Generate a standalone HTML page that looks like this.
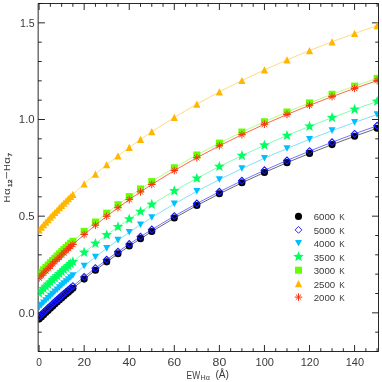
<!DOCTYPE html><html><head><meta charset="utf-8"><style>html,body{margin:0;padding:0;background:#fff}svg{display:block;will-change:transform}text{font-family:"Liberation Sans",sans-serif;fill:#3a3a3a}</style></head><body>
<svg width="382" height="382" viewBox="0 0 382 382">
<rect width="382" height="382" fill="#fff"/>
<defs><clipPath id="c"><rect x="38.6" y="3.95" width="339.45" height="347.1"/></clipPath></defs>
<path d="M38.15 3.5H378.5V351.5H38.15ZM39.10 351.5v-6.5M39.10 3.5v6.5M50.37 351.5v-3.3M50.37 3.5v3.3M61.63 351.5v-3.3M61.63 3.5v3.3M72.90 351.5v-3.3M72.90 3.5v3.3M84.17 351.5v-6.5M84.17 3.5v6.5M95.44 351.5v-3.3M95.44 3.5v3.3M106.70 351.5v-3.3M106.70 3.5v3.3M117.97 351.5v-3.3M117.97 3.5v3.3M129.24 351.5v-6.5M129.24 3.5v6.5M140.51 351.5v-3.3M140.51 3.5v3.3M151.78 351.5v-3.3M151.78 3.5v3.3M163.04 351.5v-3.3M163.04 3.5v3.3M174.31 351.5v-6.5M174.31 3.5v6.5M185.58 351.5v-3.3M185.58 3.5v3.3M196.84 351.5v-3.3M196.84 3.5v3.3M208.11 351.5v-3.3M208.11 3.5v3.3M219.38 351.5v-6.5M219.38 3.5v6.5M230.65 351.5v-3.3M230.65 3.5v3.3M241.91 351.5v-3.3M241.91 3.5v3.3M253.18 351.5v-3.3M253.18 3.5v3.3M264.45 351.5v-6.5M264.45 3.5v6.5M275.72 351.5v-3.3M275.72 3.5v3.3M286.99 351.5v-3.3M286.99 3.5v3.3M298.25 351.5v-3.3M298.25 3.5v3.3M309.52 351.5v-6.5M309.52 3.5v6.5M320.79 351.5v-3.3M320.79 3.5v3.3M332.06 351.5v-3.3M332.06 3.5v3.3M343.32 351.5v-3.3M343.32 3.5v3.3M354.59 351.5v-6.5M354.59 3.5v6.5M365.86 351.5v-3.3M365.86 3.5v3.3M377.12 351.5v-3.3M377.12 3.5v3.3M38.15 351.50H41.75M378.5 351.50h-3.3M38.15 332.17H41.75M378.5 332.17h-3.3M38.15 312.83H44.95M378.5 312.83h-6.5M38.15 293.50H41.75M378.5 293.50h-3.3M38.15 274.17H41.75M378.5 274.17h-3.3M38.15 254.83H41.75M378.5 254.83h-3.3M38.15 235.50H41.75M378.5 235.50h-3.3M38.15 216.17H44.95M378.5 216.17h-6.5M38.15 196.83H41.75M378.5 196.83h-3.3M38.15 177.50H41.75M378.5 177.50h-3.3M38.15 158.17H41.75M378.5 158.17h-3.3M38.15 138.83H41.75M378.5 138.83h-3.3M38.15 119.50H44.95M378.5 119.50h-6.5M38.15 100.17H41.75M378.5 100.17h-3.3M38.15 80.83H41.75M378.5 80.83h-3.3M38.15 61.50H41.75M378.5 61.50h-3.3M38.15 42.17H41.75M378.5 42.17h-3.3M38.15 22.83H44.95M378.5 22.83h-6.5M38.15 3.50H41.75M378.5 3.50h-3.3" stroke="#111" stroke-width="0.9" fill="none"/>
<g clip-path="url(#c)">
<polyline points="39.10,319.10 41.35,316.88 43.61,314.70 45.86,312.53 48.11,310.39 50.37,308.28 52.62,306.19 54.87,304.12 57.13,302.07 59.38,300.04 61.63,298.04 63.89,296.05 66.14,294.09 68.40,292.15 70.65,290.22 72.90,288.32 84.17,279.08 95.44,270.26 106.70,261.85 117.97,253.79 129.24,246.07 140.51,238.66 151.78,231.54 174.31,218.07 196.84,205.53 219.38,193.81 241.91,182.80 264.45,172.44 286.99,162.66 309.52,153.40 332.06,144.61 354.59,136.25 377.12,128.28" fill="none" stroke="#000000" stroke-width="0.6"/>
<circle cx="39.10" cy="319.10" r="3.55" fill="#000000"/>
<circle cx="41.35" cy="316.88" r="3.55" fill="#000000"/>
<circle cx="43.61" cy="314.70" r="3.55" fill="#000000"/>
<circle cx="45.86" cy="312.53" r="3.55" fill="#000000"/>
<circle cx="48.11" cy="310.39" r="3.55" fill="#000000"/>
<circle cx="50.37" cy="308.28" r="3.55" fill="#000000"/>
<circle cx="52.62" cy="306.19" r="3.55" fill="#000000"/>
<circle cx="54.87" cy="304.12" r="3.55" fill="#000000"/>
<circle cx="57.13" cy="302.07" r="3.55" fill="#000000"/>
<circle cx="59.38" cy="300.04" r="3.55" fill="#000000"/>
<circle cx="61.63" cy="298.04" r="3.55" fill="#000000"/>
<circle cx="63.89" cy="296.05" r="3.55" fill="#000000"/>
<circle cx="66.14" cy="294.09" r="3.55" fill="#000000"/>
<circle cx="68.40" cy="292.15" r="3.55" fill="#000000"/>
<circle cx="70.65" cy="290.22" r="3.55" fill="#000000"/>
<circle cx="72.90" cy="288.32" r="3.55" fill="#000000"/>
<circle cx="84.17" cy="279.08" r="3.55" fill="#000000"/>
<circle cx="95.44" cy="270.26" r="3.55" fill="#000000"/>
<circle cx="106.70" cy="261.85" r="3.55" fill="#000000"/>
<circle cx="117.97" cy="253.79" r="3.55" fill="#000000"/>
<circle cx="129.24" cy="246.07" r="3.55" fill="#000000"/>
<circle cx="140.51" cy="238.66" r="3.55" fill="#000000"/>
<circle cx="151.78" cy="231.54" r="3.55" fill="#000000"/>
<circle cx="174.31" cy="218.07" r="3.55" fill="#000000"/>
<circle cx="196.84" cy="205.53" r="3.55" fill="#000000"/>
<circle cx="219.38" cy="193.81" r="3.55" fill="#000000"/>
<circle cx="241.91" cy="182.80" r="3.55" fill="#000000"/>
<circle cx="264.45" cy="172.44" r="3.55" fill="#000000"/>
<circle cx="286.99" cy="162.66" r="3.55" fill="#000000"/>
<circle cx="309.52" cy="153.40" r="3.55" fill="#000000"/>
<circle cx="332.06" cy="144.61" r="3.55" fill="#000000"/>
<circle cx="354.59" cy="136.25" r="3.55" fill="#000000"/>
<circle cx="377.12" cy="128.28" r="3.55" fill="#000000"/>
<polyline points="39.10,316.56 41.35,314.38 43.61,312.21 45.86,310.07 48.11,307.95 50.37,305.86 52.62,303.79 54.87,301.74 57.13,299.71 59.38,297.70 61.63,295.71 63.89,293.75 66.14,291.80 68.40,289.87 70.65,287.96 72.90,286.07 84.17,276.89 95.44,268.13 106.70,259.76 117.97,251.74 129.24,244.04 140.51,236.65 151.78,229.53 174.31,216.07 196.84,203.51 219.38,191.76 241.91,180.71 264.45,170.30 286.99,160.45 309.52,151.12 332.06,142.26 354.59,133.82 377.12,125.76" fill="none" stroke="#1414ff" stroke-width="0.6"/>
<path d="M35.70 316.56L39.10 313.16L42.50 316.56L39.10 319.96Z" fill="none" stroke="#1414ff" stroke-width="1.1"/>
<path d="M37.95 314.38L41.35 310.98L44.75 314.38L41.35 317.78Z" fill="none" stroke="#1414ff" stroke-width="1.1"/>
<path d="M40.21 312.21L43.61 308.81L47.01 312.21L43.61 315.61Z" fill="none" stroke="#1414ff" stroke-width="1.1"/>
<path d="M42.46 310.07L45.86 306.67L49.26 310.07L45.86 313.47Z" fill="none" stroke="#1414ff" stroke-width="1.1"/>
<path d="M44.71 307.95L48.11 304.55L51.51 307.95L48.11 311.35Z" fill="none" stroke="#1414ff" stroke-width="1.1"/>
<path d="M46.97 305.86L50.37 302.46L53.77 305.86L50.37 309.26Z" fill="none" stroke="#1414ff" stroke-width="1.1"/>
<path d="M49.22 303.79L52.62 300.39L56.02 303.79L52.62 307.19Z" fill="none" stroke="#1414ff" stroke-width="1.1"/>
<path d="M51.47 301.74L54.87 298.34L58.27 301.74L54.87 305.14Z" fill="none" stroke="#1414ff" stroke-width="1.1"/>
<path d="M53.73 299.71L57.13 296.31L60.53 299.71L57.13 303.11Z" fill="none" stroke="#1414ff" stroke-width="1.1"/>
<path d="M55.98 297.70L59.38 294.30L62.78 297.70L59.38 301.10Z" fill="none" stroke="#1414ff" stroke-width="1.1"/>
<path d="M58.23 295.71L61.63 292.31L65.03 295.71L61.63 299.11Z" fill="none" stroke="#1414ff" stroke-width="1.1"/>
<path d="M60.49 293.75L63.89 290.35L67.29 293.75L63.89 297.15Z" fill="none" stroke="#1414ff" stroke-width="1.1"/>
<path d="M62.74 291.80L66.14 288.40L69.54 291.80L66.14 295.20Z" fill="none" stroke="#1414ff" stroke-width="1.1"/>
<path d="M65.00 289.87L68.40 286.47L71.80 289.87L68.40 293.27Z" fill="none" stroke="#1414ff" stroke-width="1.1"/>
<path d="M67.25 287.96L70.65 284.56L74.05 287.96L70.65 291.36Z" fill="none" stroke="#1414ff" stroke-width="1.1"/>
<path d="M69.50 286.07L72.90 282.67L76.30 286.07L72.90 289.47Z" fill="none" stroke="#1414ff" stroke-width="1.1"/>
<path d="M80.77 276.89L84.17 273.49L87.57 276.89L84.17 280.29Z" fill="none" stroke="#1414ff" stroke-width="1.1"/>
<path d="M92.04 268.13L95.44 264.73L98.84 268.13L95.44 271.53Z" fill="none" stroke="#1414ff" stroke-width="1.1"/>
<path d="M103.30 259.76L106.70 256.36L110.10 259.76L106.70 263.16Z" fill="none" stroke="#1414ff" stroke-width="1.1"/>
<path d="M114.57 251.74L117.97 248.34L121.37 251.74L117.97 255.14Z" fill="none" stroke="#1414ff" stroke-width="1.1"/>
<path d="M125.84 244.04L129.24 240.64L132.64 244.04L129.24 247.44Z" fill="none" stroke="#1414ff" stroke-width="1.1"/>
<path d="M137.11 236.65L140.51 233.25L143.91 236.65L140.51 240.05Z" fill="none" stroke="#1414ff" stroke-width="1.1"/>
<path d="M148.38 229.53L151.78 226.13L155.18 229.53L151.78 232.93Z" fill="none" stroke="#1414ff" stroke-width="1.1"/>
<path d="M170.91 216.07L174.31 212.67L177.71 216.07L174.31 219.47Z" fill="none" stroke="#1414ff" stroke-width="1.1"/>
<path d="M193.44 203.51L196.84 200.11L200.24 203.51L196.84 206.91Z" fill="none" stroke="#1414ff" stroke-width="1.1"/>
<path d="M215.98 191.76L219.38 188.36L222.78 191.76L219.38 195.16Z" fill="none" stroke="#1414ff" stroke-width="1.1"/>
<path d="M238.51 180.71L241.91 177.31L245.31 180.71L241.91 184.11Z" fill="none" stroke="#1414ff" stroke-width="1.1"/>
<path d="M261.05 170.30L264.45 166.90L267.85 170.30L264.45 173.70Z" fill="none" stroke="#1414ff" stroke-width="1.1"/>
<path d="M283.59 160.45L286.99 157.05L290.38 160.45L286.99 163.85Z" fill="none" stroke="#1414ff" stroke-width="1.1"/>
<path d="M306.12 151.12L309.52 147.72L312.92 151.12L309.52 154.52Z" fill="none" stroke="#1414ff" stroke-width="1.1"/>
<path d="M328.66 142.26L332.06 138.86L335.45 142.26L332.06 145.66Z" fill="none" stroke="#1414ff" stroke-width="1.1"/>
<path d="M351.19 133.82L354.59 130.42L357.99 133.82L354.59 137.22Z" fill="none" stroke="#1414ff" stroke-width="1.1"/>
<path d="M373.73 125.76L377.12 122.36L380.52 125.76L377.12 129.16Z" fill="none" stroke="#1414ff" stroke-width="1.1"/>
<polyline points="39.10,307.38 41.35,305.08 43.61,302.80 45.86,300.55 48.11,298.33 50.37,296.13 52.62,293.96 54.87,291.82 57.13,289.70 59.38,287.60 61.63,285.53 63.89,283.48 66.14,281.45 68.40,279.44 70.65,277.46 72.90,275.50 84.17,265.98 95.44,256.94 106.70,248.33 117.97,240.11 129.24,232.26 140.51,224.73 151.78,217.51 174.31,203.91 196.84,191.29 219.38,179.54 241.91,168.54 264.45,158.23 286.99,148.51 309.52,139.34 332.06,130.66 354.59,122.42 377.12,114.59" fill="none" stroke="#00bfff" stroke-width="0.5"/>
<path d="M35.60 304.08L42.60 304.08L39.10 310.68Z" fill="#00bfff"/>
<path d="M37.85 301.78L44.85 301.78L41.35 308.38Z" fill="#00bfff"/>
<path d="M40.11 299.50L47.11 299.50L43.61 306.10Z" fill="#00bfff"/>
<path d="M42.36 297.25L49.36 297.25L45.86 303.85Z" fill="#00bfff"/>
<path d="M44.61 295.03L51.61 295.03L48.11 301.63Z" fill="#00bfff"/>
<path d="M46.87 292.83L53.87 292.83L50.37 299.43Z" fill="#00bfff"/>
<path d="M49.12 290.66L56.12 290.66L52.62 297.26Z" fill="#00bfff"/>
<path d="M51.37 288.52L58.37 288.52L54.87 295.12Z" fill="#00bfff"/>
<path d="M53.63 286.40L60.63 286.40L57.13 293.00Z" fill="#00bfff"/>
<path d="M55.88 284.30L62.88 284.30L59.38 290.90Z" fill="#00bfff"/>
<path d="M58.13 282.23L65.13 282.23L61.63 288.83Z" fill="#00bfff"/>
<path d="M60.39 280.18L67.39 280.18L63.89 286.78Z" fill="#00bfff"/>
<path d="M62.64 278.15L69.64 278.15L66.14 284.75Z" fill="#00bfff"/>
<path d="M64.90 276.14L71.90 276.14L68.40 282.74Z" fill="#00bfff"/>
<path d="M67.15 274.16L74.15 274.16L70.65 280.76Z" fill="#00bfff"/>
<path d="M69.40 272.20L76.40 272.20L72.90 278.80Z" fill="#00bfff"/>
<path d="M80.67 262.68L87.67 262.68L84.17 269.28Z" fill="#00bfff"/>
<path d="M91.94 253.64L98.94 253.64L95.44 260.24Z" fill="#00bfff"/>
<path d="M103.20 245.03L110.20 245.03L106.70 251.63Z" fill="#00bfff"/>
<path d="M114.47 236.81L121.47 236.81L117.97 243.41Z" fill="#00bfff"/>
<path d="M125.74 228.96L132.74 228.96L129.24 235.56Z" fill="#00bfff"/>
<path d="M137.01 221.43L144.01 221.43L140.51 228.03Z" fill="#00bfff"/>
<path d="M148.28 214.21L155.28 214.21L151.78 220.81Z" fill="#00bfff"/>
<path d="M170.81 200.61L177.81 200.61L174.31 207.21Z" fill="#00bfff"/>
<path d="M193.34 187.99L200.34 187.99L196.84 194.59Z" fill="#00bfff"/>
<path d="M215.88 176.24L222.88 176.24L219.38 182.84Z" fill="#00bfff"/>
<path d="M238.41 165.24L245.41 165.24L241.91 171.84Z" fill="#00bfff"/>
<path d="M260.95 154.93L267.95 154.93L264.45 161.53Z" fill="#00bfff"/>
<path d="M283.49 145.21L290.49 145.21L286.99 151.81Z" fill="#00bfff"/>
<path d="M306.02 136.04L313.02 136.04L309.52 142.64Z" fill="#00bfff"/>
<path d="M328.56 127.36L335.56 127.36L332.06 133.96Z" fill="#00bfff"/>
<path d="M351.09 119.12L358.09 119.12L354.59 125.72Z" fill="#00bfff"/>
<path d="M373.62 111.29L380.62 111.29L377.12 117.89Z" fill="#00bfff"/>
<polyline points="39.10,293.21 41.35,290.95 43.61,288.71 45.86,286.50 48.11,284.31 50.37,282.16 52.62,280.02 54.87,277.91 57.13,275.82 59.38,273.76 61.63,271.71 63.89,269.69 66.14,267.70 68.40,265.72 70.65,263.76 72.90,261.83 84.17,252.44 95.44,243.50 106.70,234.98 117.97,226.84 129.24,219.05 140.51,211.58 151.78,204.41 174.31,190.88 196.84,178.31 219.38,166.58 241.91,155.60 264.45,145.28 286.99,135.55 309.52,126.35 332.06,117.63 354.59,109.36 377.12,101.48" fill="none" stroke="#00ff60" stroke-width="0.5"/>
<polygon points="39.10,287.61 40.48,291.31 44.43,291.48 41.33,293.94 42.39,297.74 39.10,295.56 35.81,297.74 36.87,293.94 33.77,291.48 37.72,291.31" fill="#00ff60"/>
<polygon points="41.35,285.35 42.73,289.05 46.68,289.22 43.59,291.67 44.65,295.48 41.35,293.30 38.06,295.48 39.12,291.67 36.03,289.22 39.97,289.05" fill="#00ff60"/>
<polygon points="43.61,283.11 44.99,286.81 48.93,286.98 45.84,289.44 46.90,293.24 43.61,291.06 40.32,293.24 41.37,289.44 38.28,286.98 42.23,286.81" fill="#00ff60"/>
<polygon points="45.86,280.90 47.24,284.60 51.19,284.77 48.10,287.23 49.15,291.03 45.86,288.85 42.57,291.03 43.63,287.23 40.53,284.77 44.48,284.60" fill="#00ff60"/>
<polygon points="48.11,278.71 49.50,282.41 53.44,282.58 50.35,285.04 51.41,288.85 48.11,286.66 44.82,288.85 45.88,285.04 42.79,282.58 46.73,282.41" fill="#00ff60"/>
<polygon points="50.37,276.56 51.75,280.25 55.69,280.42 52.60,282.88 53.66,286.69 50.37,284.51 47.08,286.69 48.13,282.88 45.04,280.42 48.99,280.25" fill="#00ff60"/>
<polygon points="52.62,274.42 54.00,278.12 57.95,278.29 54.86,280.75 55.91,284.55 52.62,282.37 49.33,284.55 50.39,280.75 47.30,278.29 51.24,278.12" fill="#00ff60"/>
<polygon points="54.87,272.31 56.26,276.01 60.20,276.18 57.11,278.64 58.17,282.44 54.87,280.26 51.58,282.44 52.64,278.64 49.55,276.18 53.49,276.01" fill="#00ff60"/>
<polygon points="57.13,270.22 58.51,273.92 62.45,274.09 59.36,276.55 60.42,280.35 57.13,278.17 53.84,280.35 54.89,276.55 51.80,274.09 55.75,273.92" fill="#00ff60"/>
<polygon points="59.38,268.16 60.76,271.86 64.71,272.03 61.62,274.48 62.67,278.29 59.38,276.11 56.09,278.29 57.15,274.48 54.06,272.03 58.00,271.86" fill="#00ff60"/>
<polygon points="61.63,266.11 63.02,269.81 66.96,269.98 63.87,272.44 64.93,276.25 61.63,274.06 58.34,276.25 59.40,272.44 56.31,269.98 60.25,269.81" fill="#00ff60"/>
<polygon points="63.89,264.09 65.27,267.79 69.21,267.96 66.12,270.42 67.18,274.23 63.89,272.04 60.60,274.23 61.65,270.42 58.56,267.96 62.51,267.79" fill="#00ff60"/>
<polygon points="66.14,262.10 67.52,265.79 71.47,265.97 68.38,268.42 69.43,272.23 66.14,270.05 62.85,272.23 63.91,268.42 60.82,265.97 64.76,265.79" fill="#00ff60"/>
<polygon points="68.40,260.12 69.78,263.82 73.72,263.99 70.63,266.45 71.69,270.25 68.40,268.07 65.10,270.25 66.16,266.45 63.07,263.99 67.01,263.82" fill="#00ff60"/>
<polygon points="70.65,258.16 72.03,261.86 75.97,262.03 72.88,264.49 73.94,268.29 70.65,266.11 67.36,268.29 68.41,264.49 65.32,262.03 69.27,261.86" fill="#00ff60"/>
<polygon points="72.90,256.23 74.28,259.93 78.23,260.10 75.14,262.55 76.19,266.36 72.90,264.18 69.61,266.36 70.67,262.55 67.58,260.10 71.52,259.93" fill="#00ff60"/>
<polygon points="84.17,246.84 85.55,250.54 89.50,250.71 86.40,253.16 87.46,256.97 84.17,254.79 80.88,256.97 81.94,253.16 78.84,250.71 82.79,250.54" fill="#00ff60"/>
<polygon points="95.44,237.90 96.82,241.60 100.76,241.77 97.67,244.23 98.73,248.03 95.44,245.85 92.15,248.03 93.20,244.23 90.11,241.77 94.06,241.60" fill="#00ff60"/>
<polygon points="106.70,229.38 108.09,233.08 112.03,233.25 108.94,235.71 110.00,239.51 106.70,237.33 103.41,239.51 104.47,235.71 101.38,233.25 105.32,233.08" fill="#00ff60"/>
<polygon points="117.97,221.24 119.35,224.94 123.30,225.11 120.21,227.57 121.26,231.37 117.97,229.19 114.68,231.37 115.74,227.57 112.65,225.11 116.59,224.94" fill="#00ff60"/>
<polygon points="129.24,213.45 130.62,217.15 134.57,217.32 131.47,219.78 132.53,223.58 129.24,221.40 125.95,223.58 127.01,219.78 123.91,217.32 127.86,217.15" fill="#00ff60"/>
<polygon points="140.51,205.98 141.89,209.68 145.83,209.85 142.74,212.31 143.80,216.11 140.51,213.93 137.22,216.11 138.27,212.31 135.18,209.85 139.13,209.68" fill="#00ff60"/>
<polygon points="151.78,198.81 153.16,202.51 157.10,202.68 154.01,205.14 155.07,208.94 151.78,206.76 148.48,208.94 149.54,205.14 146.45,202.68 150.39,202.51" fill="#00ff60"/>
<polygon points="174.31,185.28 175.69,188.98 179.64,189.15 176.54,191.61 177.60,195.41 174.31,193.23 171.02,195.41 172.08,191.61 168.98,189.15 172.93,188.98" fill="#00ff60"/>
<polygon points="196.84,172.71 198.23,176.41 202.17,176.58 199.08,179.04 200.14,182.84 196.84,180.66 193.55,182.84 194.61,179.04 191.52,176.58 195.46,176.41" fill="#00ff60"/>
<polygon points="219.38,160.98 220.76,164.68 224.71,164.85 221.61,167.31 222.67,171.11 219.38,168.93 216.09,171.11 217.15,167.31 214.05,164.85 218.00,164.68" fill="#00ff60"/>
<polygon points="241.91,150.00 243.30,153.70 247.24,153.87 244.15,156.32 245.21,160.13 241.91,157.95 238.62,160.13 239.68,156.32 236.59,153.87 240.53,153.70" fill="#00ff60"/>
<polygon points="264.45,139.68 265.83,143.37 269.78,143.55 266.68,146.00 267.74,149.81 264.45,147.63 261.16,149.81 262.22,146.00 259.12,143.55 263.07,143.37" fill="#00ff60"/>
<polygon points="286.99,129.95 288.37,133.64 292.31,133.82 289.22,136.27 290.28,140.08 286.99,137.90 283.69,140.08 284.75,136.27 281.66,133.82 285.60,133.64" fill="#00ff60"/>
<polygon points="309.52,120.75 310.90,124.45 314.85,124.62 311.75,127.07 312.81,130.88 309.52,128.70 306.23,130.88 307.29,127.07 304.19,124.62 308.14,124.45" fill="#00ff60"/>
<polygon points="332.06,112.03 333.44,115.73 337.38,115.90 334.29,118.36 335.35,122.16 332.06,119.98 328.76,122.16 329.82,118.36 326.73,115.90 330.67,115.73" fill="#00ff60"/>
<polygon points="354.59,103.76 355.97,107.46 359.92,107.63 356.82,110.08 357.88,113.89 354.59,111.71 351.30,113.89 352.36,110.08 349.26,107.63 353.21,107.46" fill="#00ff60"/>
<polygon points="377.12,95.88 378.51,99.58 382.45,99.75 379.36,102.21 380.42,106.01 377.12,103.83 373.83,106.01 374.89,102.21 371.80,99.75 375.74,99.58" fill="#00ff60"/>
<polyline points="39.10,274.59 41.35,272.17 43.61,269.78 45.86,267.42 48.11,265.08 50.37,262.78 52.62,260.51 54.87,258.27 57.13,256.05 59.38,253.86 61.63,251.70 63.89,249.56 66.14,247.44 68.40,245.36 70.65,243.29 72.90,241.25 84.17,231.38 95.44,222.03 106.70,213.15 117.97,204.70 129.24,196.64 140.51,188.95 151.78,181.58 174.31,167.74 196.84,154.97 219.38,143.11 241.91,132.05 264.45,121.72 286.99,112.01 309.52,102.87 332.06,94.25 354.59,86.09 377.12,78.35" fill="none" stroke="#66ff00" stroke-width="0.5"/>
<rect x="35.60" y="271.09" width="7.0" height="7.0" fill="#66ff00"/>
<rect x="37.85" y="268.67" width="7.0" height="7.0" fill="#66ff00"/>
<rect x="40.11" y="266.28" width="7.0" height="7.0" fill="#66ff00"/>
<rect x="42.36" y="263.92" width="7.0" height="7.0" fill="#66ff00"/>
<rect x="44.61" y="261.58" width="7.0" height="7.0" fill="#66ff00"/>
<rect x="46.87" y="259.28" width="7.0" height="7.0" fill="#66ff00"/>
<rect x="49.12" y="257.01" width="7.0" height="7.0" fill="#66ff00"/>
<rect x="51.37" y="254.77" width="7.0" height="7.0" fill="#66ff00"/>
<rect x="53.63" y="252.55" width="7.0" height="7.0" fill="#66ff00"/>
<rect x="55.88" y="250.36" width="7.0" height="7.0" fill="#66ff00"/>
<rect x="58.13" y="248.20" width="7.0" height="7.0" fill="#66ff00"/>
<rect x="60.39" y="246.06" width="7.0" height="7.0" fill="#66ff00"/>
<rect x="62.64" y="243.94" width="7.0" height="7.0" fill="#66ff00"/>
<rect x="64.90" y="241.86" width="7.0" height="7.0" fill="#66ff00"/>
<rect x="67.15" y="239.79" width="7.0" height="7.0" fill="#66ff00"/>
<rect x="69.40" y="237.75" width="7.0" height="7.0" fill="#66ff00"/>
<rect x="80.67" y="227.88" width="7.0" height="7.0" fill="#66ff00"/>
<rect x="91.94" y="218.53" width="7.0" height="7.0" fill="#66ff00"/>
<rect x="103.20" y="209.65" width="7.0" height="7.0" fill="#66ff00"/>
<rect x="114.47" y="201.20" width="7.0" height="7.0" fill="#66ff00"/>
<rect x="125.74" y="193.14" width="7.0" height="7.0" fill="#66ff00"/>
<rect x="137.01" y="185.45" width="7.0" height="7.0" fill="#66ff00"/>
<rect x="148.28" y="178.08" width="7.0" height="7.0" fill="#66ff00"/>
<rect x="170.81" y="164.24" width="7.0" height="7.0" fill="#66ff00"/>
<rect x="193.34" y="151.47" width="7.0" height="7.0" fill="#66ff00"/>
<rect x="215.88" y="139.61" width="7.0" height="7.0" fill="#66ff00"/>
<rect x="238.41" y="128.55" width="7.0" height="7.0" fill="#66ff00"/>
<rect x="260.95" y="118.22" width="7.0" height="7.0" fill="#66ff00"/>
<rect x="283.49" y="108.51" width="7.0" height="7.0" fill="#66ff00"/>
<rect x="306.02" y="99.37" width="7.0" height="7.0" fill="#66ff00"/>
<rect x="328.56" y="90.75" width="7.0" height="7.0" fill="#66ff00"/>
<rect x="351.09" y="82.59" width="7.0" height="7.0" fill="#66ff00"/>
<rect x="373.62" y="74.85" width="7.0" height="7.0" fill="#66ff00"/>
<polyline points="39.10,229.84 41.35,227.24 43.61,224.68 45.86,222.16 48.11,219.67 50.37,217.21 52.62,214.79 54.87,212.40 57.13,210.04 59.38,207.71 61.63,205.41 63.89,203.14 66.14,200.89 68.40,198.68 70.65,196.49 72.90,194.33 84.17,183.90 95.44,174.04 106.70,164.71 117.97,155.85 129.24,147.43 140.51,139.40 151.78,131.72 174.31,117.36 196.84,104.13 219.38,91.89 241.91,80.51 264.45,69.89 286.99,59.94 309.52,50.59 332.06,41.79 354.59,33.47 377.12,25.59" fill="none" stroke="#ffb600" stroke-width="0.5"/>
<path d="M35.50 233.44L42.70 233.44L39.10 226.24Z" fill="#ffb600"/>
<path d="M37.75 230.84L44.95 230.84L41.35 223.64Z" fill="#ffb600"/>
<path d="M40.01 228.28L47.21 228.28L43.61 221.08Z" fill="#ffb600"/>
<path d="M42.26 225.76L49.46 225.76L45.86 218.56Z" fill="#ffb600"/>
<path d="M44.51 223.27L51.71 223.27L48.11 216.07Z" fill="#ffb600"/>
<path d="M46.77 220.81L53.97 220.81L50.37 213.61Z" fill="#ffb600"/>
<path d="M49.02 218.39L56.22 218.39L52.62 211.19Z" fill="#ffb600"/>
<path d="M51.27 216.00L58.47 216.00L54.87 208.80Z" fill="#ffb600"/>
<path d="M53.53 213.64L60.73 213.64L57.13 206.44Z" fill="#ffb600"/>
<path d="M55.78 211.31L62.98 211.31L59.38 204.11Z" fill="#ffb600"/>
<path d="M58.03 209.01L65.23 209.01L61.63 201.81Z" fill="#ffb600"/>
<path d="M60.29 206.74L67.49 206.74L63.89 199.54Z" fill="#ffb600"/>
<path d="M62.54 204.49L69.74 204.49L66.14 197.29Z" fill="#ffb600"/>
<path d="M64.80 202.28L72.00 202.28L68.40 195.08Z" fill="#ffb600"/>
<path d="M67.05 200.09L74.25 200.09L70.65 192.89Z" fill="#ffb600"/>
<path d="M69.30 197.93L76.50 197.93L72.90 190.73Z" fill="#ffb600"/>
<path d="M80.57 187.50L87.77 187.50L84.17 180.30Z" fill="#ffb600"/>
<path d="M91.84 177.64L99.04 177.64L95.44 170.44Z" fill="#ffb600"/>
<path d="M103.10 168.31L110.30 168.31L106.70 161.11Z" fill="#ffb600"/>
<path d="M114.37 159.45L121.57 159.45L117.97 152.25Z" fill="#ffb600"/>
<path d="M125.64 151.03L132.84 151.03L129.24 143.83Z" fill="#ffb600"/>
<path d="M136.91 143.00L144.11 143.00L140.51 135.80Z" fill="#ffb600"/>
<path d="M148.18 135.32L155.38 135.32L151.78 128.12Z" fill="#ffb600"/>
<path d="M170.71 120.96L177.91 120.96L174.31 113.76Z" fill="#ffb600"/>
<path d="M193.24 107.73L200.44 107.73L196.84 100.53Z" fill="#ffb600"/>
<path d="M215.78 95.49L222.98 95.49L219.38 88.29Z" fill="#ffb600"/>
<path d="M238.31 84.11L245.51 84.11L241.91 76.91Z" fill="#ffb600"/>
<path d="M260.85 73.49L268.05 73.49L264.45 66.29Z" fill="#ffb600"/>
<path d="M283.38 63.54L290.59 63.54L286.99 56.34Z" fill="#ffb600"/>
<path d="M305.92 54.19L313.12 54.19L309.52 46.99Z" fill="#ffb600"/>
<path d="M328.45 45.39L335.66 45.39L332.06 38.19Z" fill="#ffb600"/>
<path d="M350.99 37.07L358.19 37.07L354.59 29.87Z" fill="#ffb600"/>
<path d="M373.52 29.19L380.73 29.19L377.12 21.99Z" fill="#ffb600"/>
<polyline points="39.10,278.07 41.35,275.63 43.61,273.22 45.86,270.85 48.11,268.50 50.37,266.19 52.62,263.90 54.87,261.64 57.13,259.41 59.38,257.21 61.63,255.03 63.89,252.88 66.14,250.75 68.40,248.65 70.65,246.57 72.90,244.52 84.17,234.59 95.44,225.18 106.70,216.25 117.97,207.75 129.24,199.64 140.51,191.90 151.78,184.49 174.31,170.57 196.84,157.72 219.38,145.79 241.91,134.67 264.45,124.27 286.99,114.50 309.52,105.31 332.06,96.63 354.59,88.41 377.12,80.62" fill="none" stroke="#ff3010" stroke-width="0.75"/>
<path d="M35.30 278.07H42.90M39.10 274.27V281.87M36.41 275.39L41.79 280.76M36.41 280.76L41.79 275.39" stroke="#ff3010" stroke-width="1.0" fill="none"/>
<path d="M37.55 275.63H45.15M41.35 271.83V279.43M38.67 272.95L44.04 278.32M38.67 278.32L44.04 272.95" stroke="#ff3010" stroke-width="1.0" fill="none"/>
<path d="M39.81 273.22H47.41M43.61 269.42V277.02M40.92 270.54L46.29 275.91M40.92 275.91L46.29 270.54" stroke="#ff3010" stroke-width="1.0" fill="none"/>
<path d="M42.06 270.85H49.66M45.86 267.05V274.65M43.17 268.16L48.55 273.54M43.17 273.54L48.55 268.16" stroke="#ff3010" stroke-width="1.0" fill="none"/>
<path d="M44.31 268.50H51.91M48.11 264.70V272.30M45.43 265.82L50.80 271.19M45.43 271.19L50.80 265.82" stroke="#ff3010" stroke-width="1.0" fill="none"/>
<path d="M46.57 266.19H54.17M50.37 262.39V269.99M47.68 263.50L53.05 268.87M47.68 268.87L53.05 263.50" stroke="#ff3010" stroke-width="1.0" fill="none"/>
<path d="M48.82 263.90H56.42M52.62 260.10V267.70M49.93 261.21L55.31 266.59M49.93 266.59L55.31 261.21" stroke="#ff3010" stroke-width="1.0" fill="none"/>
<path d="M51.07 261.64H58.67M54.87 257.84V265.44M52.19 258.95L57.56 264.33M52.19 264.33L57.56 258.95" stroke="#ff3010" stroke-width="1.0" fill="none"/>
<path d="M53.33 259.41H60.93M57.13 255.61V263.21M54.44 256.72L59.81 262.10M54.44 262.10L59.81 256.72" stroke="#ff3010" stroke-width="1.0" fill="none"/>
<path d="M55.58 257.21H63.18M59.38 253.41V261.01M56.69 254.52L62.07 259.89M56.69 259.89L62.07 254.52" stroke="#ff3010" stroke-width="1.0" fill="none"/>
<path d="M57.84 255.03H65.44M61.63 251.23V258.83M58.95 252.34L64.32 257.71M58.95 257.71L64.32 252.34" stroke="#ff3010" stroke-width="1.0" fill="none"/>
<path d="M60.09 252.88H67.69M63.89 249.08V256.68M61.20 250.19L66.58 255.56M61.20 255.56L66.58 250.19" stroke="#ff3010" stroke-width="1.0" fill="none"/>
<path d="M62.34 250.75H69.94M66.14 246.95V254.55M63.46 248.06L68.83 253.44M63.46 253.44L68.83 248.06" stroke="#ff3010" stroke-width="1.0" fill="none"/>
<path d="M64.60 248.65H72.20M68.40 244.85V252.45M65.71 245.96L71.08 251.33M65.71 251.33L71.08 245.96" stroke="#ff3010" stroke-width="1.0" fill="none"/>
<path d="M66.85 246.57H74.45M70.65 242.77V250.37M67.96 243.88L73.34 249.26M67.96 249.26L73.34 243.88" stroke="#ff3010" stroke-width="1.0" fill="none"/>
<path d="M69.10 244.52H76.70M72.90 240.72V248.32M70.22 241.83L75.59 247.20M70.22 247.20L75.59 241.83" stroke="#ff3010" stroke-width="1.0" fill="none"/>
<path d="M80.37 234.59H87.97M84.17 230.79V238.39M81.48 231.90L86.86 237.27M81.48 237.27L86.86 231.90" stroke="#ff3010" stroke-width="1.0" fill="none"/>
<path d="M91.64 225.18H99.24M95.44 221.38V228.98M92.75 222.49L98.12 227.87M92.75 227.87L98.12 222.49" stroke="#ff3010" stroke-width="1.0" fill="none"/>
<path d="M102.90 216.25H110.50M106.70 212.45V220.05M104.02 213.56L109.39 218.93M104.02 218.93L109.39 213.56" stroke="#ff3010" stroke-width="1.0" fill="none"/>
<path d="M114.17 207.75H121.77M117.97 203.95V211.55M115.29 205.06L120.66 210.43M115.29 210.43L120.66 205.06" stroke="#ff3010" stroke-width="1.0" fill="none"/>
<path d="M125.44 199.64H133.04M129.24 195.84V203.44M126.55 196.95L131.93 202.33M126.55 202.33L131.93 196.95" stroke="#ff3010" stroke-width="1.0" fill="none"/>
<path d="M136.71 191.90H144.31M140.51 188.10V195.70M137.82 189.21L143.19 194.58M137.82 194.58L143.19 189.21" stroke="#ff3010" stroke-width="1.0" fill="none"/>
<path d="M147.97 184.49H155.58M151.78 180.69V188.29M149.09 181.80L154.46 187.17M149.09 187.17L154.46 181.80" stroke="#ff3010" stroke-width="1.0" fill="none"/>
<path d="M170.51 170.57H178.11M174.31 166.77V174.37M171.62 167.88L177.00 173.26M171.62 173.26L177.00 167.88" stroke="#ff3010" stroke-width="1.0" fill="none"/>
<path d="M193.04 157.72H200.64M196.84 153.92V161.52M194.16 155.03L199.53 160.40M194.16 160.40L199.53 155.03" stroke="#ff3010" stroke-width="1.0" fill="none"/>
<path d="M215.58 145.79H223.18M219.38 141.99V149.59M216.69 143.10L222.07 148.47M216.69 148.47L222.07 143.10" stroke="#ff3010" stroke-width="1.0" fill="none"/>
<path d="M238.11 134.67H245.72M241.91 130.87V138.47M239.23 131.98L244.60 137.35M239.23 137.35L244.60 131.98" stroke="#ff3010" stroke-width="1.0" fill="none"/>
<path d="M260.65 124.27H268.25M264.45 120.47V128.07M261.76 121.58L267.14 126.95M261.76 126.95L267.14 121.58" stroke="#ff3010" stroke-width="1.0" fill="none"/>
<path d="M283.19 114.50H290.79M286.99 110.70V118.30M284.30 111.81L289.67 117.19M284.30 117.19L289.67 111.81" stroke="#ff3010" stroke-width="1.0" fill="none"/>
<path d="M305.72 105.31H313.32M309.52 101.51V109.11M306.83 102.62L312.21 107.99M306.83 107.99L312.21 102.62" stroke="#ff3010" stroke-width="1.0" fill="none"/>
<path d="M328.25 96.63H335.86M332.06 92.83V100.43M329.37 93.94L334.74 99.31M329.37 99.31L334.74 93.94" stroke="#ff3010" stroke-width="1.0" fill="none"/>
<path d="M350.79 88.41H358.39M354.59 84.61V92.21M351.90 85.73L357.28 91.10M351.90 91.10L357.28 85.73" stroke="#ff3010" stroke-width="1.0" fill="none"/>
<path d="M373.32 80.62H380.93M377.12 76.82V84.42M374.44 77.94L379.81 83.31M374.44 83.31L379.81 77.94" stroke="#ff3010" stroke-width="1.0" fill="none"/>
</g>
<text transform="translate(39.10,366.40) scale(1.0,1)" font-size="10.2" text-anchor="middle">0</text>
<text transform="translate(84.17,366.40) scale(1.2,1)" font-size="10.2" text-anchor="middle">20</text>
<text transform="translate(129.24,366.40) scale(1.2,1)" font-size="10.2" text-anchor="middle">40</text>
<text transform="translate(174.31,366.40) scale(1.2,1)" font-size="10.2" text-anchor="middle">60</text>
<text transform="translate(219.38,366.40) scale(1.2,1)" font-size="10.2" text-anchor="middle">80</text>
<text transform="translate(264.75,366.40) scale(1.08,1)" font-size="10.2" text-anchor="middle">100</text>
<text transform="translate(309.82,366.40) scale(1.08,1)" font-size="10.2" text-anchor="middle">120</text>
<text transform="translate(354.89,366.40) scale(1.08,1)" font-size="10.2" text-anchor="middle">140</text>
<text transform="translate(34.70,316.63) scale(1.12,1)" font-size="10.2" text-anchor="end">0.0</text>
<text transform="translate(34.70,219.97) scale(1.12,1)" font-size="10.2" text-anchor="end">0.5</text>
<text transform="translate(34.70,123.30) scale(1.12,1)" font-size="10.2" text-anchor="end">1.0</text>
<text transform="translate(34.70,26.63) scale(1.04,1)" font-size="10.2" text-anchor="end">1.5</text>
<text transform="translate(186.60,378.50) scale(0.82,1)" font-size="10.2" text-anchor="start">EW</text>
<text transform="translate(200.50,379.70) scale(1.12,1)" font-size="6.4" text-anchor="start">Hα</text>
<text transform="translate(215.40,378.30) scale(1.0,1)" font-size="10.2" text-anchor="start">(Å)</text>
<text transform="translate(9.70,202.50) rotate(-90) scale(1.13,1)" font-size="8.3">H</text>
<text transform="translate(9.70,195.00) rotate(-90) scale(1.4,1)" font-size="8.3">α</text>
<text transform="translate(11.80,187.00) rotate(-90) scale(1.12,1)" font-size="6.1" stroke="#3a3a3a" stroke-width="0.3">12</text>
<path d="M6.6 178.6V172.0" stroke="#444" stroke-width="0.8" fill="none"/>
<text transform="translate(9.70,171.00) rotate(-90) scale(1.13,1)" font-size="8.3">H</text>
<text transform="translate(9.70,163.80) rotate(-90) scale(1.4,1)" font-size="8.3">α</text>
<text transform="translate(11.80,156.70) rotate(-90) scale(1.12,1)" font-size="6.1" stroke="#3a3a3a" stroke-width="0.3">7</text>
<circle cx="298.50" cy="216.40" r="3.55" fill="#000000"/>
<text transform="translate(313.70,220.40) scale(1.07,1)" font-size="9.0" text-anchor="start" fill="#777">6000</text>
<text transform="translate(339.30,220.40) scale(0.92,1)" font-size="9.0" text-anchor="start" fill="#777">K</text>
<path d="M295.10 229.85L298.50 226.45L301.90 229.85L298.50 233.25Z" fill="none" stroke="#1414ff" stroke-width="0.9"/>
<text transform="translate(313.70,233.85) scale(1.07,1)" font-size="9.0" text-anchor="start" fill="#777">5000</text>
<text transform="translate(339.30,233.85) scale(0.92,1)" font-size="9.0" text-anchor="start" fill="#777">K</text>
<path d="M295.00 240.00L302.00 240.00L298.50 246.60Z" fill="#00bfff"/>
<text transform="translate(313.70,247.30) scale(1.07,1)" font-size="9.0" text-anchor="start" fill="#777">4000</text>
<text transform="translate(339.30,247.30) scale(0.92,1)" font-size="9.0" text-anchor="start" fill="#777">K</text>
<polygon points="298.50,251.15 299.88,254.85 303.83,255.02 300.73,257.48 301.79,261.28 298.50,259.10 295.21,261.28 296.27,257.48 293.17,255.02 297.12,254.85" fill="#00ff60"/>
<text transform="translate(313.70,260.75) scale(1.07,1)" font-size="9.0" text-anchor="start" fill="#777">3500</text>
<text transform="translate(339.30,260.75) scale(0.92,1)" font-size="9.0" text-anchor="start" fill="#777">K</text>
<rect x="295.00" y="266.70" width="7.0" height="7.0" fill="#66ff00"/>
<text transform="translate(313.70,274.20) scale(1.07,1)" font-size="9.0" text-anchor="start" fill="#777">3000</text>
<text transform="translate(339.30,274.20) scale(0.92,1)" font-size="9.0" text-anchor="start" fill="#777">K</text>
<path d="M294.90 287.25L302.10 287.25L298.50 280.05Z" fill="#ffb600"/>
<text transform="translate(313.70,287.65) scale(1.07,1)" font-size="9.0" text-anchor="start" fill="#777">2500</text>
<text transform="translate(339.30,287.65) scale(0.92,1)" font-size="9.0" text-anchor="start" fill="#777">K</text>
<path d="M294.70 297.10H302.30M298.50 293.30V300.90M295.81 294.41L301.19 299.79M295.81 299.79L301.19 294.41" stroke="#ff3010" stroke-width="1.0" fill="none"/>
<text transform="translate(313.70,301.10) scale(1.07,1)" font-size="9.0" text-anchor="start" fill="#777">2000</text>
<text transform="translate(339.30,301.10) scale(0.92,1)" font-size="9.0" text-anchor="start" fill="#777">K</text>
</svg></body></html>
